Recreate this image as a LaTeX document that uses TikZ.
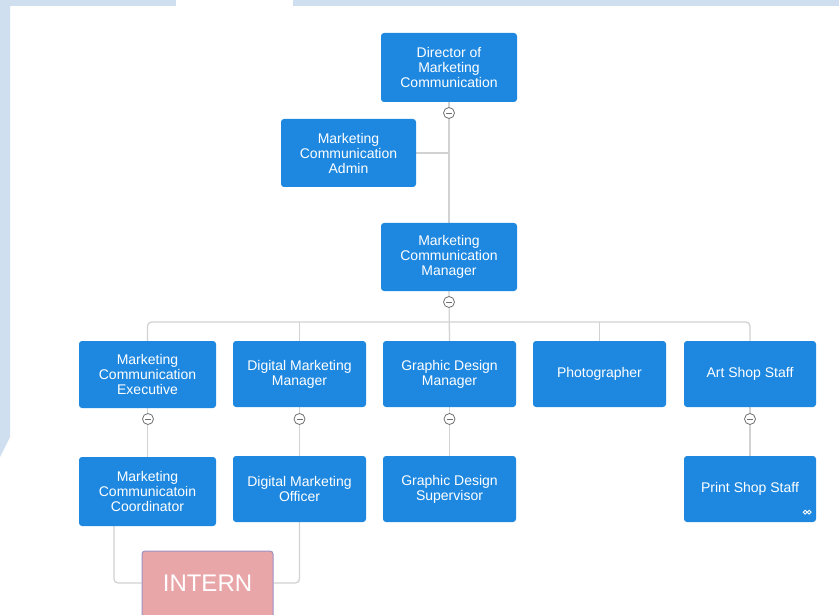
\documentclass[tikz,border=0pt]{standalone}
\usepackage{fontspec}
\setmainfont{Liberation Sans}
\usetikzlibrary{backgrounds}
\definecolor{boxblue}{HTML}{1E88E0}
\definecolor{bgblue}{HTML}{CFDFEF}
\definecolor{linegrey}{HTML}{D2D2D2}
\definecolor{circgrey}{HTML}{707070}
\definecolor{interncol}{HTML}{E9A6A9}
\definecolor{internborder}{HTML}{9C92C6}
\begin{document}
\begin{tikzpicture}[x=1pt,y=-1pt,
  box/.style={fill=boxblue, rounded corners=3pt, text=white, align=center,
    font=\fontsize{14}{15}\selectfont, inner sep=0pt,
    minimum width=134pt, minimum height=67pt},
  conn/.style={draw=linegrey, line width=1.3pt},
  toggle/.style={circle, draw=circgrey, fill=white, line width=0.8pt,
    minimum size=11pt, inner sep=0pt,
    path picture={\draw[circgrey, line width=0.8pt]
      ([xshift=-3pt]path picture bounding box.center) --
      ([xshift=3pt]path picture bounding box.center);}},
  internbox/.style={fill=interncol, draw=internborder, line width=1pt,
    rounded corners=3pt, text=white, font=\fontsize{24}{26}\selectfont,
    text width=131pt, align=center, text height=40.5pt, text depth=38.5pt,
    inner sep=0pt}
]
\useasboundingbox (0,0) rectangle (839,615);
\clip (0,0) rectangle (839,615);
\begin{scope}[on background layer]
\fill[white] (0,0) rectangle (839,615);
\fill[bgblue] (0,0) rectangle (176,6);
\fill[bgblue] (293,0) rectangle (839,6);
\fill[bgblue] (0,0) -- (10,0) -- (10,437) -- (0,457) -- cycle;
\end{scope}

% nodes
\node[box, minimum width=136pt, minimum height=69pt] (dir) at (449,67.5) {Director of\\Marketing\\Communication};
\node[box, minimum width=135pt, minimum height=68pt] (admin) at (348.5,153) {Marketing\\Communication\\Admin};
\node[box, minimum width=136pt, minimum height=68pt] (mgr) at (449,257) {Marketing\\Communication\\Manager};

\node[box, minimum width=137pt] (exec) at (147.5,374.5) {Marketing\\Communication\\Executive};
\node[box, minimum width=133pt, minimum height=66pt] (dmm) at (299.5,374) {Digital Marketing\\Manager};
\node[box, minimum width=133pt, minimum height=66pt] (gdm) at (449.5,374) {Graphic Design\\Manager};
\node[box, minimum width=133pt, minimum height=66pt] (photo) at (599.5,374) {Photographer};
\node[box, minimum width=132pt, minimum height=66pt] (art) at (750,374) {Art Shop Staff};

\node[box, minimum width=137pt, minimum height=69pt] (coord) at (147.5,491.5) {Marketing\\Communicatoin\\Coordinator};
\node[box, minimum width=133pt, minimum height=66pt] (dmo) at (299.5,489) {Digital Marketing\\Officer};
\node[box, minimum width=133pt, minimum height=66pt] (gds) at (449.5,489) {Graphic Design\\Supervisor};
\node[box, minimum width=132pt, minimum height=66pt] (print) at (750,489) {Print Shop Staff};

\node[internbox, anchor=base] (intern) at (207.5,591.5) {INTERN};

\coordinate (bus) at (449,322);
\coordinate (ij) at (207.5,583);

% connectors
\begin{scope}[on background layer]
\draw[conn] (dir.south) -- (mgr.north);
\draw[conn] (admin.east) -- (admin.east -| dir.south);
\draw[conn] (mgr.south) -- (gdm.north);
\draw[conn, rounded corners=4pt] (exec.north) -- (exec.north |- bus) -- (art.north |- bus) -- (art.north);
\draw[conn] (dmm.north |- bus) -- (dmm.north);
\draw[conn] (photo.north |- bus) -- (photo.north);
\draw[conn] (exec.south) -- (coord.north);
\draw[conn] (dmm.south) -- (dmo.north);
\draw[conn] (gdm.south) -- (gds.north);
\draw[conn] (art.south) -- (print.north);
\draw[conn, rounded corners=4pt] ([xshift=-33.5pt]coord.south) |- (intern.west |- ij);
\draw[conn, rounded corners=4pt] (dmo.south) |- (intern.east |- ij);
\end{scope}

% toggles
\node[toggle] (t1) at (449,113) {};
\node[toggle] (t2) at (449,302) {};
\node[toggle] (t3) at (148,419) {};
\node[toggle] (t4) at (299.5,419) {};
\node[toggle] (t5) at (449.5,419) {};
\node[toggle] (t6) at (750,419) {};

% small link icon on Print Shop Staff
\draw[white, line width=0.9pt] ([xshift=-11pt,yshift=10pt]print.south east) circle (1.9pt)
  ([xshift=-7pt,yshift=10pt]print.south east) circle (1.9pt);
\end{tikzpicture}
\end{document}
